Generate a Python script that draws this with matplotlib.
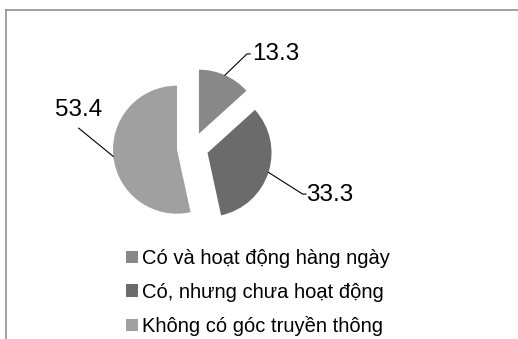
import numpy as np
import matplotlib
matplotlib.use("Agg")
import matplotlib.pyplot as plt

# data
categories = ["Có và hoạt động hàng ngày", "Có, nhưng chưa hoạt động", "Không có góc truyền thông"]
values = [13.3, 33.3, 53.4]
value_labels = ["13.3", "33.3", "53.4"]
colors = ["#888888", "#6b6b6b", "#a0a0a0"]

plt.rcParams['font.family'] = ['Liberation Sans', 'DejaVu Sans']

W, H = 518, 339
fig = plt.figure(figsize=(W / 100, H / 100), dpi=100)

# pie centre and radius in pixels (y measured from top)
cx, cy, R = 192.6, 148.0, 64.0
ax = fig.add_axes([0, 0, 1, 1])
explode = [0.245] * len(values)
wedges, _ = ax.pie(values, colors=colors, startangle=90, counterclock=False,
                   explode=explode, radius=1.0, wedgeprops=dict(linewidth=0))
ax.set_xlim(-cx / R, (W - cx) / R)
ax.set_ylim(-(H - cy) / R, cy / R)
ax.set_aspect('equal')
ax.axis('off')

# leader line ends and text anchors (in units of radius, relative to centre)
leader_ends = [(0.85, 1.47), (1.72, -0.72), (-1.78, 0.31)]
text_pos = [(0.93, 1.47), (1.77, -0.74), (-1.78, 0.59)]
text_align = [('left', 'center'), ('left', 'center'), ('center', 'center')]

for w, lab, le, tp, (ha, va), ex in zip(wedges, value_labels, leader_ends, text_pos, text_align, explode):
    mid = np.deg2rad((w.theta1 + w.theta2) / 2)
    sx = (1 + ex) * np.cos(mid)
    sy = (1 + ex) * np.sin(mid)
    xs = [sx, le[0]]
    ys = [sy, le[1]]
    if ha == 'left':
        xs.append(le[0] + 0.05)
        ys.append(le[1])
    ax.plot(xs, ys, color='black', linewidth=0.8)
    ax.text(tp[0], tp[1], lab, ha=ha, va=va, fontsize=17.5, color='black')

# legend below the pie
leg = fig.legend(wedges, categories, loc='upper left',
                 bbox_to_anchor=(126 / W, 1 - 249 / H), frameon=False,
                 fontsize=14.5, handlelength=0.6, handleheight=0.6,
                 handletextpad=0.2, labelspacing=0.72, borderpad=0,
                 borderaxespad=0)

# outer chart border (cut at the right and bottom of the picture)
fig.add_artist(plt.Line2D([6 / W, 1], [1 - 9.5 / H, 1 - 9.5 / H], color='#888888', linewidth=1.1))
fig.add_artist(plt.Line2D([6 / W, 6 / W], [0, 1 - 9.5 / H], color='#888888', linewidth=1.1))

fig.savefig('out.png', dpi=100)
